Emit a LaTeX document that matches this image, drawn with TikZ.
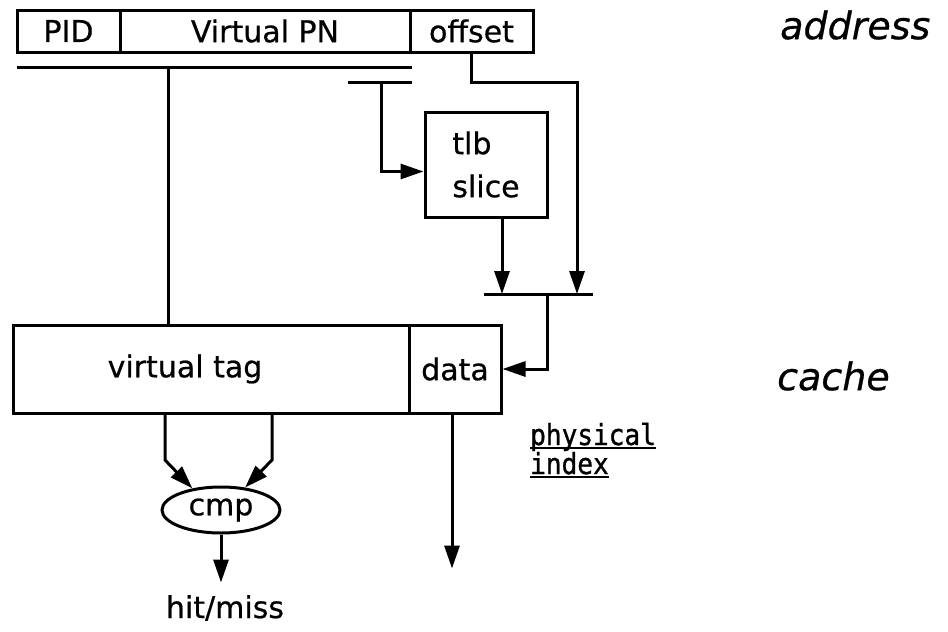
\documentclass[tikz,border=0pt]{standalone}
\usepackage{fontspec}
\setmainfont{DejaVu Sans}[FakeBold=0.6]
\newfontfamily\monofont{DejaVu Sans Mono}[FakeStretch=0.9,FakeBold=1]
\usetikzlibrary{arrows.meta,shapes.geometric,calc}

\begin{document}
\begin{tikzpicture}[x=1pt,y=-1pt,
  wire/.style={line width=3pt},
  arr/.style={wire,-{Triangle[length=23pt,width=15pt]}},
  box/.style={draw,line width=3pt,rectangle,inner sep=0pt,
              font=\fontsize{30}{36}\selectfont},
  lbl/.style={font=\fontsize{30}{36}\selectfont,inner sep=0pt},
  side/.style={font=\fontsize{38}{44}\selectfont\itshape,inner sep=0pt,anchor=west},
  note/.style={font=\monofont\fontsize{29}{32}\selectfont,inner sep=0pt,anchor=base west}]

\useasboundingbox (0,0) rectangle (948,632);

% address word
\node[box,minimum width=103pt,minimum height=42pt] (pid) at (68.5,31) {PID};
\node[box,minimum width=290pt,minimum height=42pt] (vpn) at (265,31) {Virtual PN};
\node[box,minimum width=123pt,minimum height=42pt] (off) at (471.5,31) {offset};
\node[side] (addr) at (780,25) {address};

% split buses under the address
\coordinate (busL) at (17,67);
\coordinate (busR) at (412,67);
\coordinate (sbusL) at (348,82);
\coordinate (sbusR) at (412,82);
\draw[wire] (busL) -- (busR);
\draw[wire] (sbusL) -- (sbusR);
\coordinate (tap1) at (168,67);
\coordinate (tap2) at (381,82);

% tlb slice
\node[box,minimum width=122pt,minimum height=105pt,align=left,
      font=\fontsize{30}{43}\selectfont] (tlb) at (486,164.5) {tlb\\slice};

% merge bar
\coordinate (barL) at (484,294);
\coordinate (barR) at (593,294);
\draw[wire] (barL) -- (barR);
\coordinate (offbend) at (577,82);
\coordinate (bartap) at (547,294);

% cache
\node[box,minimum width=396pt,minimum height=88pt] (tag) at (211,369) {};
\node[lbl] (tagtxt) at (185,369) {virtual tag};
\node[box,minimum width=92pt,minimum height=88pt] (data) at (455,369) {data};
\node[side] (cache) at (777,376) {cache};

% comparator
\node[draw,line width=3pt,ellipse,minimum width=118pt,minimum height=46pt,
      inner sep=0pt,font=\fontsize{30}{36}\selectfont] (cmp) at (221,510) {cmp};
\node[lbl] (hm) at (225,608) {hit/miss};

\node[note] (phys) at (530,445) {physical};
\node[note] (idx) at (530,474) {index};
\draw[line width=2.4pt] ([yshift=-3pt]phys.base west) -- ([yshift=-3pt]phys.base east);
\draw[line width=2.4pt] ([yshift=-3pt]idx.base west) -- ([yshift=-3pt]idx.base east);

% connectors
\draw[wire] (tap1) -- (tap1 |- tag.north);
\draw[arr] (tap2) |- ([yshift=-7pt]tlb.west);
\draw[arr] (off.south) |- (offbend) -- (offbend |- barR);
\draw[arr] ([xshift=16pt]tlb.south) -- ([xshift=16pt]tlb.south |- barL);
\draw[arr] (bartap) |- (data.east);

\coordinate (c1) at (165,460);
\coordinate (c2) at (272,460);
\draw[arr] (c1 |- tag.south) -- (c1) -- (cmp.143);
\draw[arr] (c2 |- tag.south) -- (c2) -- (cmp.43);
\draw[arr] (cmp.south) -- ++(0,48);
\draw[arr] ([xshift=-3pt]data.south) -- ++(0,154);

\end{tikzpicture}
\end{document}
